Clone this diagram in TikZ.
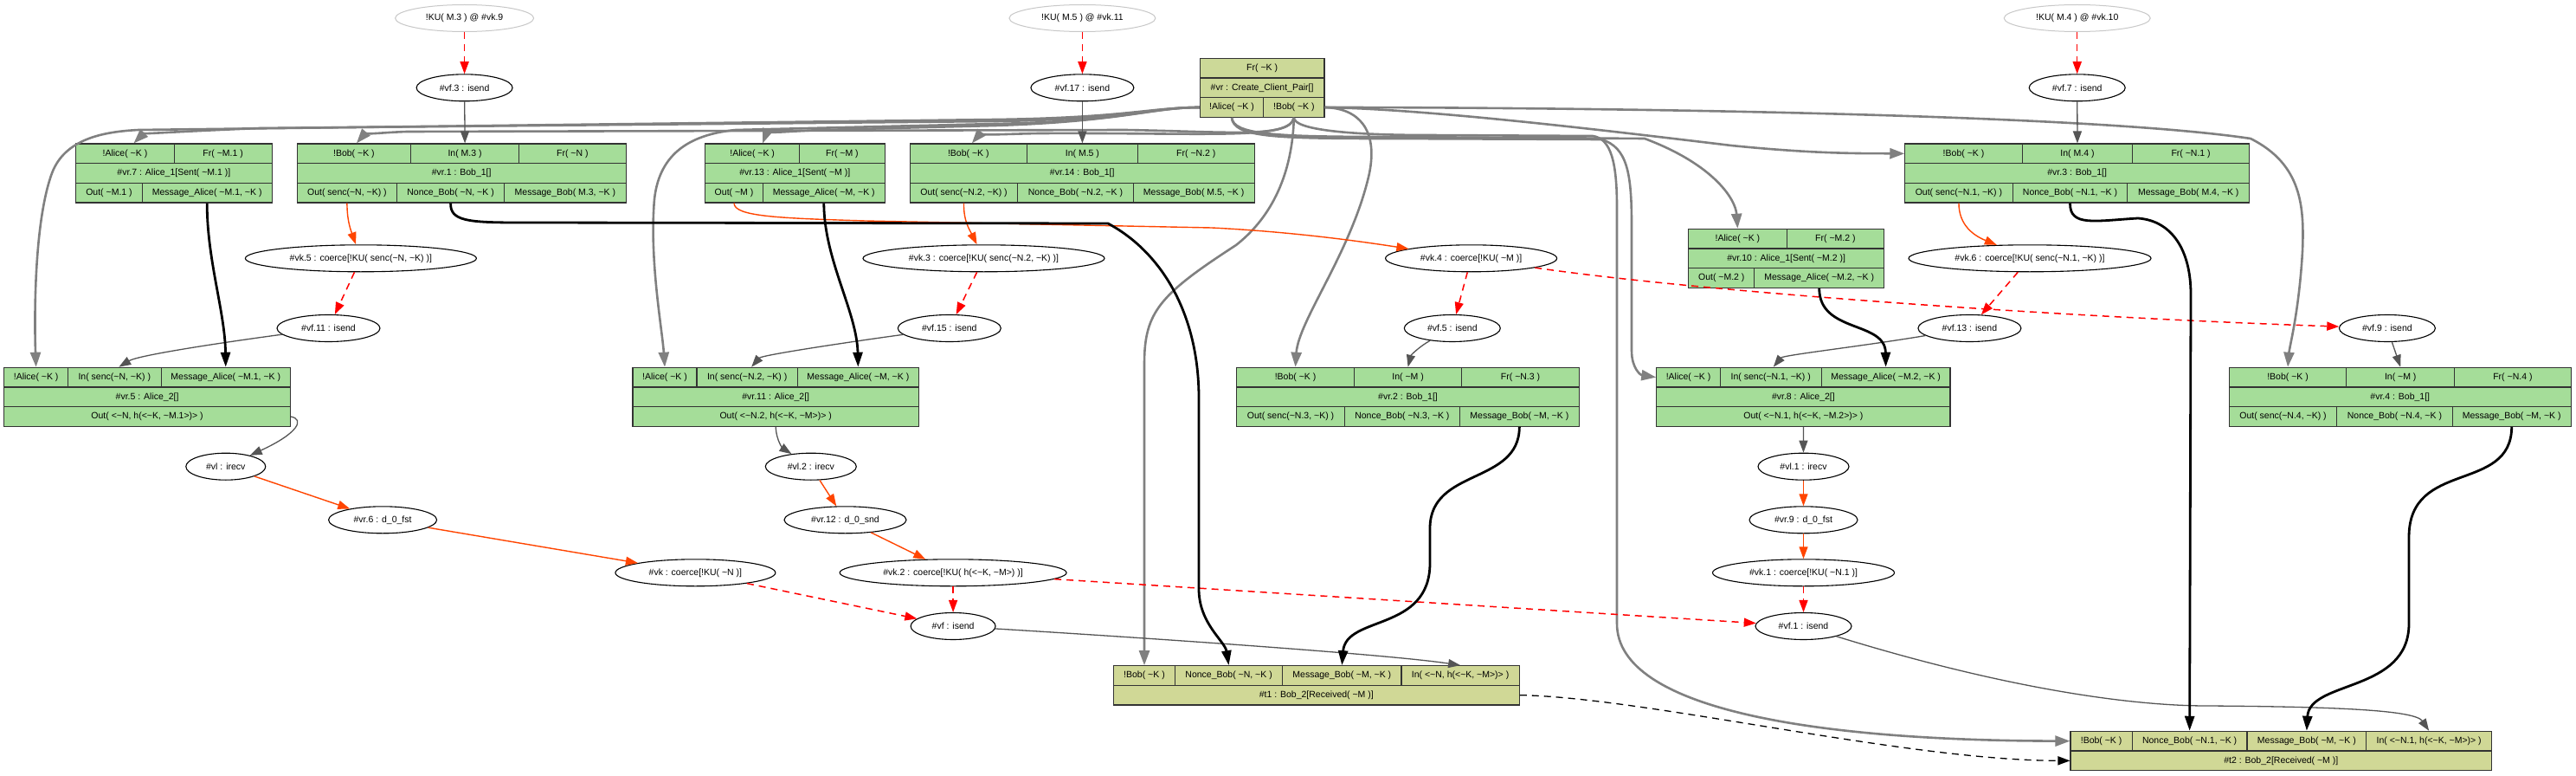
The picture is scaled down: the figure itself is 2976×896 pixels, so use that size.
\documentclass[tikz,border=0pt]{standalone}
\usepackage{fontspec}
\setmainfont{Liberation Sans}
\usetikzlibrary{shapes.geometric,arrows.meta}
\definecolor{ccp}{RGB}{204,217,152}
\definecolor{tcol}{RGB}{208,216,150}
\definecolor{grn}{RGB}{165,221,153}
\definecolor{ggray}{RGB}{128,128,128}
\definecolor{dgray}{RGB}{85,85,85}
\definecolor{ored}{RGB}{255,69,0}
\definecolor{kugray}{RGB}{200,200,200}
\newcommand{\tld}{\textasciitilde}
\newcommand{\dfont}{\fontsize{10.5pt}{12pt}\selectfont}
\newcommand{\reccell}[7]{%
  \pgfmathsetmacro{\rcW}{#3-#2}%
  \pgfmathsetmacro{\rcH}{#5-#4}%
  \pgfmathsetmacro{\rcX}{(#2+#3)/2}%
  \pgfmathsetmacro{\rcY}{(#4+#5)/2}%
  \node[rcell, fill=#6, minimum width=\rcW pt, minimum height=\rcH pt] (#1) at (\rcX,\rcY) {#7};%
}
\begin{document}
\begin{tikzpicture}[x=1pt,y=-1pt,
  rcell/.style={draw=black!80, line width=1.1pt, inner sep=0pt, font=\dfont},
  ell/.style={ellipse, draw=black, line width=1.1pt, inner sep=0pt, minimum height=31pt, font=\dfont},
  ku/.style={ellipse, draw=kugray, line width=1pt, inner sep=0pt, minimum height=31pt, font=\dfont},
  ge/.style={draw=ggray, line width=2.6pt, -{Triangle[length=17pt,width=12pt]}},
  te/.style={draw=dgray, line width=1.3pt, -{Triangle[length=14pt,width=10pt]}},
  oe/.style={draw=ored, line width=1.4pt, -{Triangle[length=14pt,width=10pt]}},
  rde/.style={draw=red, line width=1.5pt, dash pattern=on 8pt off 6pt, -{Triangle[length=14pt,width=10pt]}},
  be/.style={draw=black, line width=2.8pt, -{Triangle[length=17pt,width=11pt]}},
  bde/.style={draw=black, line width=1.3pt, dash pattern=on 8pt off 6pt, -{Triangle[length=14pt,width=10pt]}}
]
\useasboundingbox (0,0) rectangle (2976,896);
\fill[white] (0,0) rectangle (2976,896);

% ---------- Create_Client_Pair ----------
\reccell{vrF}{1386.3}{1530}{67.3}{90}{ccp}{Fr( \tld K )}
\reccell{vrR}{1386.3}{1530}{90}{112.7}{ccp}{\#vr : Create\_Client\_Pair[]}
\reccell{vrA}{1386.3}{1459.7}{112.7}{135.3}{ccp}{!Alice( \tld K )}
\reccell{vrB}{1459.7}{1530}{112.7}{135.3}{ccp}{!Bob( \tld K )}

% ---------- vr.7 ----------
\reccell{vr7a}{87.7}{201.2}{166}{188.7}{grn}{!Alice( \tld K )}
\reccell{vr7f}{201.2}{314.1}{166}{188.7}{grn}{Fr( \tld M.1 )}
\reccell{vr7r}{87.7}{314.1}{188.7}{211.3}{grn}{\#vr.7 : Alice\_1[Sent( \tld M.1 )]}
\reccell{vr7o}{87.7}{164.3}{211.3}{234}{grn}{Out( \tld M.1 )}
\reccell{vr7m}{164.3}{314.1}{211.3}{234}{grn}{Message\_Alice( \tld M.1, \tld K )}

% ---------- vr.1 ----------
\reccell{vr1b}{343.2}{474.6}{166}{188.7}{grn}{!Bob( \tld K )}
\reccell{vr1i}{474.6}{599.6}{166}{188.7}{grn}{In( M.3 )}
\reccell{vr1f}{599.6}{723.2}{166}{188.7}{grn}{Fr( \tld N )}
\reccell{vr1r}{343.2}{723.2}{188.7}{211.3}{grn}{\#vr.1 : Bob\_1[]}
\reccell{vr1o}{343.2}{458.6}{211.3}{234}{grn}{Out( senc(\tld N, \tld K) )}
\reccell{vr1n}{458.6}{582.6}{211.3}{234}{grn}{Nonce\_Bob( \tld N, \tld K )}
\reccell{vr1m}{582.6}{723.2}{211.3}{234}{grn}{Message\_Bob( M.3, \tld K )}

% ---------- vr.13 ----------
\reccell{vr13a}{814.6}{923.7}{166}{188.7}{grn}{!Alice( \tld K )}
\reccell{vr13f}{923.7}{1022.1}{166}{188.7}{grn}{Fr( \tld M )}
\reccell{vr13r}{814.6}{1022.1}{188.7}{211.3}{grn}{\#vr.13 : Alice\_1[Sent( \tld M )]}
\reccell{vr13o}{814.6}{881.5}{211.3}{234}{grn}{Out( \tld M )}
\reccell{vr13m}{881.5}{1022.1}{211.3}{234}{grn}{Message\_Alice( \tld M, \tld K )}

% ---------- vr.14 ----------
\reccell{vr14b}{1051.2}{1186.4}{166}{188.7}{grn}{!Bob( \tld K )}
\reccell{vr14i}{1186.4}{1314.4}{166}{188.7}{grn}{In( M.5 )}
\reccell{vr14f}{1314.4}{1449.2}{166}{188.7}{grn}{Fr( \tld N.2 )}
\reccell{vr14r}{1051.2}{1449.2}{188.7}{211.3}{grn}{\#vr.14 : Bob\_1[]}
\reccell{vr14o}{1051.2}{1175.8}{211.3}{234}{grn}{Out( senc(\tld N.2, \tld K) )}
\reccell{vr14n}{1175.8}{1309.1}{211.3}{234}{grn}{Nonce\_Bob( \tld N.2, \tld K )}
\reccell{vr14m}{1309.1}{1449.2}{211.3}{234}{grn}{Message\_Bob( M.5, \tld K )}

% ---------- vr.3 ----------
\reccell{vr3b}{2200.8}{2336.2}{166}{188.7}{grn}{!Bob( \tld K )}
\reccell{vr3i}{2336.2}{2463.7}{166}{188.7}{grn}{In( M.4 )}
\reccell{vr3f}{2463.7}{2598.5}{166}{188.7}{grn}{Fr( \tld N.1 )}
\reccell{vr3r}{2200.8}{2598.5}{188.7}{211.3}{grn}{\#vr.3 : Bob\_1[]}
\reccell{vr3o}{2200.8}{2325.1}{211.3}{234}{grn}{Out( senc(\tld N.1, \tld K) )}
\reccell{vr3n}{2325.1}{2457.9}{211.3}{234}{grn}{Nonce\_Bob( \tld N.1, \tld K )}
\reccell{vr3m}{2457.9}{2598.5}{211.3}{234}{grn}{Message\_Bob( M.4, \tld K )}

% ---------- vr.10 ----------
\reccell{vr10a}{1950.7}{2064.1}{264.3}{287}{grn}{!Alice( \tld K )}
\reccell{vr10f}{2064.1}{2176.6}{264.3}{287}{grn}{Fr( \tld M.2 )}
\reccell{vr10r}{1950.7}{2176.6}{287}{309.7}{grn}{\#vr.10 : Alice\_1[Sent( \tld M.2 )]}
\reccell{vr10o}{1950.7}{2026.8}{309.7}{332.3}{grn}{Out( \tld M.2 )}
\reccell{vr10m}{2026.8}{2176.6}{309.7}{332.3}{grn}{Message\_Alice( \tld M.2, \tld K )}

% ---------- vr.5 ----------
\reccell{vr5a}{4.8}{78.5}{424.3}{447}{grn}{!Alice( \tld K )}
\reccell{vr5i}{78.5}{186.1}{424.3}{447}{grn}{In( senc(\tld N, \tld K) )}
\reccell{vr5m}{186.1}{335.4}{424.3}{447}{grn}{Message\_Alice( \tld M.1, \tld K )}
\reccell{vr5r}{4.8}{335.4}{447}{469.7}{grn}{\#vr.5 : Alice\_2[]}
\reccell{vr5o}{4.8}{335.4}{469.7}{492.4}{grn}{Out( <\tld N, h(<\tld K, \tld M.1>)> )}

% ---------- vr.11 ----------
\reccell{vr11a}{731}{805}{424.3}{447}{grn}{!Alice( \tld K )}
\reccell{vr11i}{805}{921.3}{424.3}{447}{grn}{In( senc(\tld N.2, \tld K) )}
\reccell{vr11m}{921.3}{1061.4}{424.3}{447}{grn}{Message\_Alice( \tld M, \tld K )}
\reccell{vr11r}{731}{1061.4}{447}{469.7}{grn}{\#vr.11 : Alice\_2[]}
\reccell{vr11o}{731}{1061.4}{469.7}{492.4}{grn}{Out( <\tld N.2, h(<\tld K, \tld M>)> )}

% ---------- vr.2 ----------
\reccell{vr2b}{1428.8}{1564.3}{424.3}{447}{grn}{!Bob( \tld K )}
\reccell{vr2i}{1564.3}{1688.9}{424.3}{447}{grn}{In( \tld M )}
\reccell{vr2f}{1688.9}{1824.2}{424.3}{447}{grn}{Fr( \tld N.3 )}
\reccell{vr2r}{1428.8}{1824.2}{447}{469.7}{grn}{\#vr.2 : Bob\_1[]}
\reccell{vr2o}{1428.8}{1553.2}{469.7}{492.4}{grn}{Out( senc(\tld N.3, \tld K) )}
\reccell{vr2n}{1553.2}{1686.5}{469.7}{492.4}{grn}{Nonce\_Bob( \tld N.3, \tld K )}
\reccell{vr2m}{1686.5}{1824.2}{469.7}{492.4}{grn}{Message\_Bob( \tld M, \tld K )}

% ---------- vr.8 ----------
\reccell{vr8a}{1913.8}{1987.3}{424.3}{447}{grn}{!Alice( \tld K )}
\reccell{vr8i}{1987.3}{2104.2}{424.3}{447}{grn}{In( senc(\tld N.1, \tld K) )}
\reccell{vr8m}{2104.2}{2253}{424.3}{447}{grn}{Message\_Alice( \tld M.2, \tld K )}
\reccell{vr8r}{1913.8}{2253}{447}{469.7}{grn}{\#vr.8 : Alice\_2[]}
\reccell{vr8o}{1913.8}{2253}{469.7}{492.4}{grn}{Out( <\tld N.1, h(<\tld K, \tld M.2>)> )}

% ---------- vr.4 ----------
\reccell{vr4b}{2575.2}{2710.9}{424.3}{447}{grn}{!Bob( \tld K )}
\reccell{vr4i}{2710.9}{2835.5}{424.3}{447}{grn}{In( \tld M )}
\reccell{vr4f}{2835.5}{2970.3}{424.3}{447}{grn}{Fr( \tld N.4 )}
\reccell{vr4r}{2575.2}{2970.3}{447}{469.7}{grn}{\#vr.4 : Bob\_1[]}
\reccell{vr4o}{2575.2}{2699.8}{469.7}{492.4}{grn}{Out( senc(\tld N.4, \tld K) )}
\reccell{vr4n}{2699.8}{2833.1}{469.7}{492.4}{grn}{Nonce\_Bob( \tld N.4, \tld K )}
\reccell{vr4m}{2833.1}{2970.3}{469.7}{492.4}{grn}{Message\_Bob( \tld M, \tld K )}

% ---------- t1 ----------
\reccell{t1b}{1286.4}{1357.6}{768.7}{791.3}{tcol}{!Bob( \tld K )}
\reccell{t1n}{1357.6}{1481.6}{768.7}{791.3}{tcol}{Nonce\_Bob( \tld N, \tld K )}
\reccell{t1m}{1481.6}{1619}{768.7}{791.3}{tcol}{Message\_Bob( \tld M, \tld K )}
\reccell{t1i}{1619}{1755.2}{768.7}{791.3}{tcol}{In( <\tld N, h(<\tld K, \tld M>)> )}
\reccell{t1r}{1286.4}{1755.2}{791.3}{814}{tcol}{\#t1 : Bob\_2[Received( \tld M )]}

% ---------- t2 ----------
\reccell{t2b}{2392}{2463.2}{844.3}{867}{tcol}{!Bob( \tld K )}
\reccell{t2n}{2463.2}{2596}{844.3}{867}{tcol}{Nonce\_Bob( \tld N.1, \tld K )}
\reccell{t2m}{2596}{2733.7}{844.3}{867}{tcol}{Message\_Bob( \tld M, \tld K )}
\reccell{t2i}{2733.7}{2878.6}{844.3}{867}{tcol}{In( <\tld N.1, h(<\tld K, \tld M>)> )}
\reccell{t2r}{2392}{2878.6}{867}{889.7}{tcol}{\#t2 : Bob\_2[Received( \tld M )]}

% ---------- ellipses ----------
\node[ku, minimum width=160pt] (ku9) at (536.6,21) {!KU( M.3 ) @ \#vk.9};
\node[ku, minimum width=169pt] (ku11) at (1250.4,21) {!KU( M.5 ) @ \#vk.11};
\node[ku, minimum width=169pt] (ku10) at (2399.7,21) {!KU( M.4 ) @ \#vk.10};
\node[ell, minimum width=111pt] (vf3) at (536.6,101.3) {\#vf.3 : isend};
\node[ell, minimum width=119pt] (vf17) at (1250.4,101.3) {\#vf.17 : isend};
\node[ell, minimum width=111pt] (vf7) at (2399.7,101.3) {\#vf.7 : isend};
\node[ell, minimum width=267pt] (vk5) at (416.9,298.3) {\#vk.5 : coerce[!KU( senc(\tld N, \tld K) )]};
\node[ell, minimum width=279pt] (vk3) at (1136.5,298.3) {\#vk.3 : coerce[!KU( senc(\tld N.2, \tld K) )]};
\node[ell, minimum width=198pt] (vk4) at (1699.6,298.3) {\#vk.4 : coerce[!KU( \tld M )]};
\node[ell, minimum width=280pt] (vk6) at (2345,298.3) {\#vk.6 : coerce[!KU( senc(\tld N.1, \tld K) )]};
\node[ell, minimum width=119pt] (vf11) at (379.5,379) {\#vf.11 : isend};
\node[ell, minimum width=119pt] (vf15) at (1096.8,379) {\#vf.15 : isend};
\node[ell, minimum width=111pt] (vf5) at (1677.8,379) {\#vf.5 : isend};
\node[ell, minimum width=119pt] (vf13) at (2275.4,379) {\#vf.13 : isend};
\node[ell, minimum width=111pt] (vf9) at (2757.9,379) {\#vf.9 : isend};
\node[ell, minimum width=92pt] (vl) at (260.8,538.7) {\#vl : irecv};
\node[ell, minimum width=105pt] (vl2) at (936.8,538.7) {\#vl.2 : irecv};
\node[ell, minimum width=105pt] (vl1) at (2083.5,538.7) {\#vl.1 : irecv};
\node[ell, minimum width=125pt] (vr6) at (442.1,600.3) {\#vr.6 : d\_0\_fst};
\node[ell, minimum width=141pt] (vr12) at (976.5,600.3) {\#vr.12 : d\_0\_snd};
\node[ell, minimum width=125pt] (vr9) at (2083.5,600.3) {\#vr.9 : d\_0\_fst};
\node[ell, minimum width=185pt] (vk) at (803.4,661.3) {\#vk : coerce[!KU( \tld N )]};
\node[ell, minimum width=262pt] (vk2) at (1101.1,661.3) {\#vk.2 : coerce[!KU( h(<\tld K, \tld M>) )]};
\node[ell, minimum width=210pt] (vk1) at (2083.5,661.3) {\#vk.1 : coerce[!KU( \tld N.1 )]};
\node[ell, minimum width=98pt] (vf) at (1101.1,723) {\#vf : isend};
\node[ell, minimum width=111pt] (vf1) at (2083.5,723) {\#vf.1 : isend};

% ---------- gray edges from Create_Client_Pair ----------
\draw[ge] (vrA.west) .. controls (1330,124) and (1300,138) .. (1150,140) -- (300,148) .. controls (200,152) and (165,155) .. ([xshift=10pt]vr7a.north);
\draw[ge] (vrA.west) .. controls (1330,124) and (1300,136) .. (1150,138) -- (160,150) .. controls (120,152) and (75,160) .. (60,200) .. controls (38,260) and (40,380) .. (vr5a.north);
\draw[ge] (vrA.west) .. controls (1330,124) and (1300,140) .. (1150,145) -- (950,150) .. controls (900,152) and (885,155) .. ([xshift=12pt]vr13a.north);
\draw[ge] (vrA.west) .. controls (1330,124) and (1300,140) .. (1150,143) -- (850,150) .. controls (800,155) and (762,175) .. (756,230) .. controls (750,300) and (765,380) .. (vr11a.north);
\draw[ge] (vrA.south) .. controls (1425,155) and (1470,158) .. (1600,158) -- (1900,160) .. controls (1980,190) and (2005,230) .. (vr10a.north);
\draw[ge] (vrA.south) .. controls (1425,158) and (1470,160) .. (1600,160) -- (1850,161) .. controls (1880,170) and (1885,200) .. (1885,260) -- (1885,405) .. controls (1885,425) and (1895,433) .. (vr8a.west);
\draw[ge] (vrB.south) .. controls (1490,160) and (1420,152) .. (1300,150) -- (470,152) .. controls (440,153) and (420,156) .. ([xshift=3pt]vr1b.north);
\draw[ge] (vrB.south) .. controls (1490,162) and (1400,153) .. (1200,154) .. controls (1150,155) and (1130,157) .. ([xshift=4pt]vr14b.north);
\draw[ge] (vrB.south) .. controls (1493,200) and (1470,250) .. (1428,283) .. controls (1340,340) and (1322,360) .. (1322,420) -- (t1b.north);
\draw[ge] (vrB.east) .. controls (1570,125) and (1592,150) .. (1582,200) .. controls (1562,290) and (1500,370) .. (vr2b.north);
\draw[ge] (vrB.east) .. controls (1800,124) and (2400,130) .. (2600,160) .. controls (2660,190) and (2662,240) .. (2660,290) .. controls (2656,360) and (2645,400) .. (vr4b.north);
\draw[ge] (vrB.east) .. controls (1650,126) and (1850,150) .. (2000,168) .. controls (2100,178) and (2150,177) .. (vr3b.west);
\draw[ge] (vrB.south) .. controls (1495,150) and (1560,156) .. (1650,156) -- (1840,157) .. controls (1862,160) and (1868,190) .. (1868,240) -- (1868,720) .. controls (1868,820) and (2100,855) .. (t2b.west);

% ---------- red dashed ----------
\draw[rde] (ku9) -- (vf3);
\draw[rde] (ku11) -- (vf17);
\draw[rde] (ku10) -- (vf7);
\draw[rde] (vk5) -- (vf11);
\draw[rde] (vk3) -- (vf15);
\draw[rde] (vk4) -- (vf5);
\draw[rde] (vk6) -- (vf13);
\draw[rde] (vk) -- (vf);
\draw[rde] (vk2) -- (vf);
\draw[rde] (vk2) -- (vf1);
\draw[rde] (vk1) -- (vf1);
\draw[rde] (vk4) .. controls (1950,335) and (2350,365) .. (vf9);

% ---------- dark thin ----------
\draw[te] (vf3) -- (vr1i.north);
\draw[te] (vf17) -- (vr14i.north);
\draw[te] (vf7) -- (vr3i.north);
\draw[te] (vf11) .. controls (260,395) and (160,410) .. ([xshift=5pt]vr5i.north);
\draw[te] (vf15) .. controls (980,395) and (880,410) .. ([xshift=5pt]vr11i.north);
\draw[te] (vf5) .. controls (1640,400) and (1630,410) .. (vr2i.north);
\draw[te] (vf13) .. controls (2150,400) and (2060,410) .. ([xshift=3pt]vr8i.north);
\draw[te] (vf9) -- (vr4i.north);
\draw[te] (vr5o.east) .. controls (352,484) and (345,500) .. (vl);
\draw[te] (vr11o.south) .. controls (897,510) and (905,518) .. (vl2);
\draw[te] (vr8o.south) -- (vl1);
\draw[te] (vf) .. controls (1300,735) and (1600,755) .. (t1i.north);
\draw[te] (vf1) .. controls (2300,790) and (2450,815) .. (2550,815) .. controls (2700,816) and (2790,820) .. (t2i.north);

% ---------- orange-red ----------
\draw[oe] (vr1o.south) .. controls (401,255) and (405,265) .. (vk5);
\draw[oe] (vr14o.south) .. controls (1113,255) and (1120,265) .. (vk3);
\draw[oe] (vr3o.south) .. controls (2263,260) and (2280,272) .. (vk6);
\draw[oe] (vr13o.south) .. controls (848,250) and (900,252) .. (1000,255) -- (1400,263) .. controls (1500,268) and (1580,280) .. (vk4);
\draw[oe] (vl) -- (vr6);
\draw[oe] (vr6) -- (vk);
\draw[oe] (vl2) -- (vr12);
\draw[oe] (vr12) -- (vk2);
\draw[oe] (vl1) -- (vr9);
\draw[oe] (vr9) -- (vk1);

% ---------- black thick ----------
\draw[be] (vr7m.south) .. controls (239,300) and (260,360) .. (vr5m.north);
\draw[be] (vr13m.south) .. controls (952,300) and (990,360) .. (vr11m.north);
\draw[be] (vr10m.south) .. controls (2101.7,385) and (2178,370) .. (vr8m.north);
\draw[be] (vr1n.south) .. controls (520,255) and (540,257) .. (600,257) -- (1280,258) .. controls (1340,290) and (1385,360) .. (1385,460) -- (1385,680) .. controls (1385,720) and (1415,740) .. (t1n.north);
\draw[be] (vr2m.south) .. controls (1755,560) and (1652,540) .. (1652,610) -- (1652,650) .. controls (1652,730) and (1555,710) .. (t1m.north);
\draw[be] (vr3n.south) .. controls (2391,262) and (2420,255) .. (2470,252) .. controls (2510,255) and (2531,290) .. (2531,340) -- (t2n.north);
\draw[be] (vr4m.south) .. controls (2901,570) and (2783,530) .. (2783,620) -- (2783,720) .. controls (2783,800) and (2668,785) .. (t2m.north);

% ---------- black dashed ----------
\draw[bde] (t1r.east) .. controls (1900,805) and (2200,878) .. (t2r.west);
\end{tikzpicture}
\end{document}
